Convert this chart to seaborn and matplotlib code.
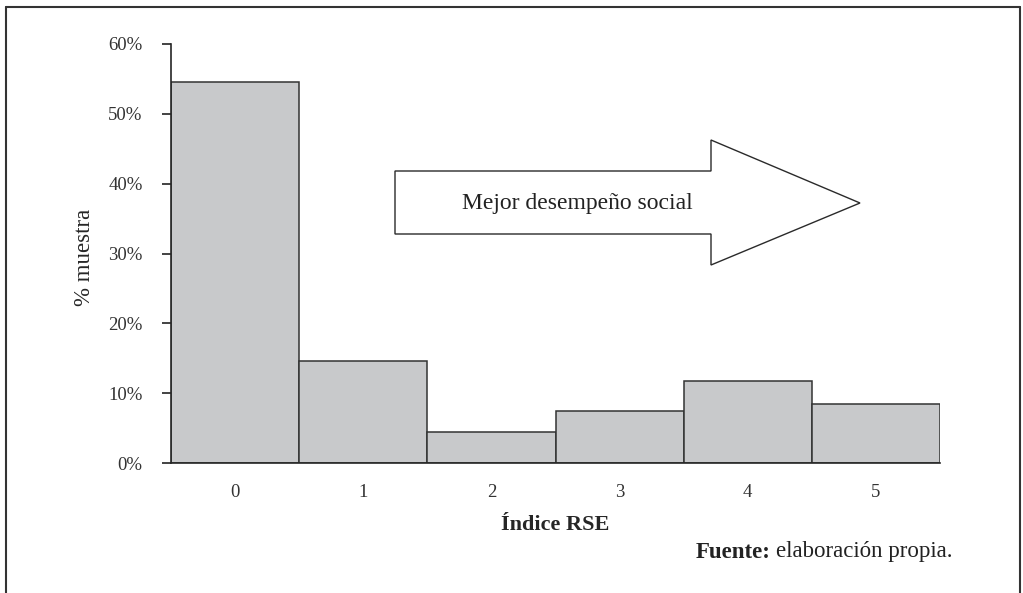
import pandas as pd
import seaborn as sns
import matplotlib.pyplot as plt
from matplotlib.lines import Line2D
from matplotlib.patches import Polygon
from matplotlib.ticker import FuncFormatter

indice = ['0', '1', '2', '3', '4', '5']
pct_muestra = [54.6, 14.6, 4.4, 7.4, 11.7, 8.4]

df = pd.DataFrame({'Indice': indice, 'Pct': pct_muestra})

sns.set_style('ticks')
plt.rcParams['font.family'] = ['Liberation Serif', 'DejaVu Serif']
plt.rcParams['text.color'] = '#222222'

fig = plt.figure(figsize=(10.23, 5.93), dpi=100)
ax = fig.add_axes([171 / 1023, 1 - 463 / 593, (940 - 171) / 1023, (463 - 44) / 593])

sns.barplot(data=df, x='Indice', y='Pct', color='#c8c9cb', width=1.0,
            edgecolor='#333333', linewidth=1.1, saturation=1, ax=ax)

ax.set_xlim(-0.5, 5.5)
ax.set_ylim(0, 60)
ax.set_yticks(range(0, 61, 10))
ax.yaxis.set_major_formatter(FuncFormatter(lambda v, p: f'{v:.0f}%'))
ax.tick_params(axis='y', length=6.5, width=1.2, color='#222222', labelsize=13.5, pad=14)
ax.tick_params(axis='x', length=0, labelsize=13.5, pad=15)
for lab in ax.get_xticklabels() + ax.get_yticklabels():
    lab.set_color('#333333')
sns.despine(ax=ax)
ax.spines['left'].set_linewidth(1.2)
ax.spines['bottom'].set_linewidth(1.2)

ax.set_xlabel('Índice RSE', fontsize=16, fontweight='bold')
ax.xaxis.set_label_coords(0.5, -(525 - 463) / 419)
ax.xaxis.label.set_va('center')
ax.set_ylabel('% muestra', fontsize=16.5)
ax.yaxis.set_label_coords(-(171 - 85) / 769, (463 - 257) / 419)
ax.yaxis.label.set_va('center')

# arrow
pts = [(395, 171), (711, 171), (711, 140), (860, 203), (711, 265), (711, 234), (395, 234)]
arrow = Polygon([(x / 1023, 1 - y / 593) for x, y in pts], closed=True,
                facecolor='white', edgecolor='#2a2a2a', linewidth=1.0,
                transform=fig.transFigure)
fig.add_artist(arrow)
fig.text(577 / 1023, 1 - 203 / 593, 'Mejor desempeño social', fontsize=17,
         ha='center', va='center')

src = fig.text(953 / 1023, 1 - 552 / 593, 'elaboración propia.',
               fontsize=16.5, ha='right', va='center')
fig.text(0, 0.5, 'Fuente:', fontsize=16.5, fontweight='bold', ha='right', va='center',
         transform=src.get_transform())
fuente = fig.texts[-1]
fuente.remove()
ax.annotate('Fuente:', xy=(0, 0.5), xycoords=src, xytext=(-4, 0),
            textcoords='offset points', fontsize=16.5, fontweight='bold',
            ha='right', va='center', annotation_clip=False)

# frame around figure
kw = dict(color='#333333', linewidth=1.5, transform=fig.transFigure)
fig.add_artist(Line2D([6 / 1023, 6 / 1023], [0, 1 - 7 / 593], **kw))
fig.add_artist(Line2D([6 / 1023, 1020 / 1023], [1 - 7 / 593, 1 - 7 / 593], **kw))
fig.add_artist(Line2D([1020 / 1023, 1020 / 1023], [0, 1 - 7 / 593], **kw))

fig.savefig('out.png', dpi=100)
